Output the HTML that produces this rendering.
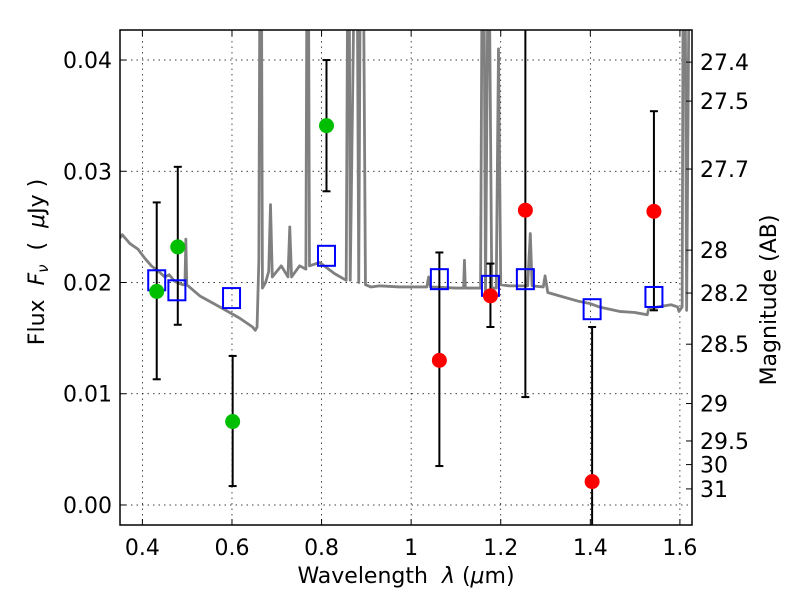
<!DOCTYPE html>
<html><head><meta charset="utf-8"><style>
body{margin:0;background:#fff}
svg text{font-family:"DejaVu Sans","Liberation Sans",sans-serif;fill:#000}
</style></head><body>
<svg id="c" width="800" height="600" xmlns="http://www.w3.org/2000/svg"></svg>
<script>
const xTicks=[0.4,0.6,0.8,1.0,1.2,1.4,1.6];
const xTickLabels=["0.4","0.6","0.8","1","1.2","1.4","1.6"];
const yTicks=[0,0.01,0.02,0.03,0.04];
const yTickLabels=["0.00","0.01","0.02","0.03","0.04"];
const magTicks=[27.4,27.5,27.7,28,28.2,28.5,29,29.5,30,31];
const specLam=[0.35,0.355,0.372,0.39,0.405,0.42,0.439,0.45,0.46,0.472,0.49,0.495,0.497,0.499,0.528,0.573,0.617,0.646,0.652,0.656,0.66,0.662,0.666,0.668,0.675,0.682,0.686,0.69,0.70,0.71,0.725,0.729,0.733,0.751,0.765,0.767,0.771,0.773,0.796,0.829,0.855,0.858,0.862,0.864,0.872,0.88,0.883,0.886,0.894,0.898,0.91,0.929,0.974,1.018,1.035,1.039,1.043,1.1,1.117,1.119,1.121,1.155,1.158,1.163,1.166,1.171,1.175,1.18,1.19,1.195,1.2,1.219,1.26,1.266,1.27,1.295,1.299,1.305,1.331,1.375,1.4,1.42,1.465,1.5,1.527,1.53,1.55,1.58,1.595,1.598,1.605,1.607,1.612,1.615,1.62,1.625];
const specFlux=[0.0240,0.0243,0.0235,0.0230,0.0222,0.0215,0.0209,0.0205,0.0207,0.0201,0.0198,0.0198,0.0239,0.0198,0.0188,0.0178,0.0168,0.0160,0.0157,0.0160,0.022,0.045,0.045,0.0195,0.0200,0.0210,0.0270,0.0205,0.0210,0.0215,0.0205,0.0250,0.0205,0.0215,0.0212,0.045,0.045,0.0215,0.0218,0.0208,0.0202,0.045,0.045,0.0202,0.045,0.045,0.0200,0.045,0.045,0.0198,0.0196,0.0197,0.0196,0.0196,0.0196,0.0205,0.0196,0.0195,0.0195,0.0220,0.0195,0.0195,0.045,0.045,0.019,0.045,0.045,0.0195,0.0195,0.041,0.0198,0.0197,0.0197,0.0244,0.0197,0.0196,0.0206,0.0191,0.0188,0.0183,0.0181,0.0178,0.0174,0.0173,0.0171,0.0176,0.0178,0.0180,0.0178,0.0174,0.0178,0.045,0.045,0.0175,0.045,0.045];
const greenLam=[0.432,0.479,0.6015,0.811];
const greenFlux=[0.0192,0.0232,0.0075,0.0341];
const greenLo=[0.0113,0.0162,0.0017,0.0282];
const greenHi=[0.0272,0.0304,0.0134,0.0400];
const redLam=[1.063,1.177,1.255,1.404,1.542];
const redFlux=[0.0130,0.0188,0.0265,0.0021,0.0264];
const redLo=[0.0035,0.0160,0.0097,-0.01,0.0175];
const redHi=[0.0227,0.0217,0.06,0.0160,0.0354];
const modelLam=[0.432,0.477,0.599,0.811,1.063,1.177,1.255,1.404,1.542];
const modelFlux=[0.0202,0.0193,0.0186,0.0224,0.0203,0.0197,0.0203,0.0176,0.0187];

const L=120,R=692,T=30,B=525,X0=0.35,X1=1.627,Y0=-0.0018,Y1=0.0427;
const sx=v=>L+(v-X0)/(X1-X0)*(R-L);
const sy=v=>B-(v-Y0)/(Y1-Y0)*(B-T);
const svg=document.getElementById('c');
const NS='http://www.w3.org/2000/svg';
function mk(tag,attrs,parent){const e=document.createElementNS(NS,tag);for(const k in attrs)e.setAttribute(k,attrs[k]);(parent||svg).appendChild(e);return e;}
const defs=mk('defs',{});const cp=mk('clipPath',{id:'clip'},defs);mk('rect',{x:L,y:T,width:R-L,height:B-T},cp);
const grid=mk('g',{stroke:'#000','stroke-width':0.7,'stroke-dasharray':'1.5,4'});


xTicks.forEach(v=>mk('line',{x1:sx(v),x2:sx(v),y1:T,y2:B},grid));
yTicks.forEach(v=>mk('line',{x1:L,x2:R,y1:sy(v),y2:sy(v)},grid));
const plot=mk('g',{'clip-path':'url(#clip)'});
const sp=mk('polyline',{points:specLam.map((l,i)=>sx(l)+','+sy(specFlux[i])).join(' '),fill:'none',stroke:'#808080','stroke-width':2.8,'stroke-linejoin':'round'},plot);


function errs(lam,lo,hi,nm){lam.forEach((l,i)=>{const g=mk('g',{stroke:'#000','stroke-width':2},plot);


mk('line',{x1:sx(l),x2:sx(l),y1:sy(lo[i]),y2:sy(hi[i])},g);
mk('line',{x1:sx(l)-4,x2:sx(l)+4,y1:sy(lo[i]),y2:sy(lo[i])},g);
mk('line',{x1:sx(l)-4,x2:sx(l)+4,y1:sy(hi[i]),y2:sy(hi[i])},g);});}
errs(greenLam,greenLo,greenHi,'hst');errs(redLam,redLo,redHi,'ir');
modelLam.forEach((l,i)=>{const r=mk('rect',{x:sx(l)-8.5,y:sy(modelFlux[i])-10,width:17,height:20,fill:'none',stroke:'#0000ff','stroke-width':2},plot);

});
greenLam.forEach((l,i)=>{const c=mk('circle',{cx:sx(l),cy:sy(greenFlux[i]),r:7.5,fill:'#00bf00'},plot);

});
redLam.forEach((l,i)=>{const c=mk('circle',{cx:sx(l),cy:sy(redFlux[i]),r:7.5,fill:'#ff0000'},plot);

});
const fr=mk('rect',{x:L,y:T,width:R-L,height:B-T,fill:'none',stroke:'#000','stroke-width':1.5});


const tk=mk('g',{stroke:'#000','stroke-width':1});
xTicks.forEach((v,i)=>{mk('line',{x1:sx(v),x2:sx(v),y1:B,y2:B-6},tk);mk('line',{x1:sx(v),x2:sx(v),y1:T,y2:T+6},tk);
const t=mk('text',{x:sx(v),y:B+30,'text-anchor':'middle','font-size':22});t.textContent=xTickLabels[i];

});
yTicks.forEach((v,i)=>{mk('line',{x1:L,x2:L+6,y1:sy(v),y2:sy(v)},tk);
const t=mk('text',{x:L-8,y:sy(v)+8,'text-anchor':'end','font-size':22});t.textContent=yTickLabels[i];

});
magTicks.forEach(m=>{const f=Math.pow(10,(23.9-m)/2.5);mk('line',{x1:R,x2:R-6,y1:sy(f),y2:sy(f)},tk);
const t=mk('text',{x:R+8,y:sy(f)+8,'font-size':22});t.textContent=String(m);

});
</script>
<svg width="800" height="600" style="position:absolute;left:0;top:0" xmlns="http://www.w3.org/2000/svg">
<text x="406" y="583" text-anchor="middle" font-size="22" xml:space="preserve">Wavelength  <tspan font-style="italic">λ</tspan> (<tspan font-style="italic">μ</tspan>m)</text>
<text transform="translate(44,262) rotate(-90)" text-anchor="middle" font-size="22" xml:space="preserve">Flux  <tspan font-style="italic">F</tspan><tspan font-style="italic" font-size="15" dy="4">ν</tspan><tspan dy="-4">  (  </tspan><tspan font-style="italic">μ</tspan>Jy )</text>
<text transform="translate(776,300) rotate(-90)" text-anchor="middle" font-size="22">Magnitude (AB)</text>
</svg>
</body></html>
